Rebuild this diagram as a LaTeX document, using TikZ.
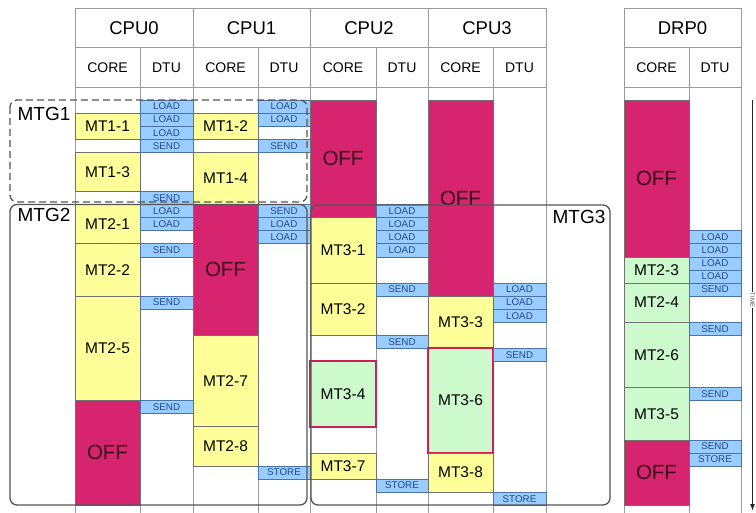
\documentclass[tikz,border=0pt]{standalone}
\usepackage{fontspec}
\setmainfont{Liberation Sans}
\usetikzlibrary{arrows.meta}
\definecolor{cyel}{HTML}{FFFF99}
\definecolor{cgrn}{HTML}{CCFACC}
\definecolor{cmag}{HTML}{D6246E}
\definecolor{coff}{HTML}{3C0A1E}
\definecolor{cblu}{HTML}{99CCFF}
\definecolor{cbline}{HTML}{4A74A8}
\definecolor{cbtxt}{HTML}{234A8C}
\definecolor{chot}{HTML}{CC1F5A}
\definecolor{cgrid}{HTML}{9A9A9A}
\definecolor{cblkl}{HTML}{707070}
\definecolor{cmtg}{HTML}{555555}
\newcommand\slotU{13.07}
\newcommand\putblk[7]{\node[#2, anchor=north west, minimum width={(#4-#3)*1pt}, minimum height={(#6-#5)*\slotU*1pt}] (#1) at (#3,{100+#5*\slotU}) {#7};}
\tikzset{
 blkbase/.style={inner sep=0pt, outer sep=0pt, draw=cblkl, line width=0.6pt},
 mtblk/.style={blkbase, fill=cyel, font=\fontsize{15.5}{16}\selectfont},
 grblk/.style={blkbase, fill=cgrn, font=\fontsize{15.5}{16}\selectfont},
 hotblk/.style={blkbase, fill=cgrn, draw=chot, line width=2pt, font=\fontsize{15.5}{16}\selectfont},
 offblk/.style={blkbase, fill=cmag, text=coff, font=\fontsize{20.5}{21}\selectfont},
 dtblk/.style={blkbase, fill=cblu, draw=cbline, text=cbtxt, font=\fontsize{9.8}{10}\selectfont},
 hdrtxt/.style={font=\fontsize{18.5}{19}\selectfont},
 subtxt/.style={font=\fontsize{14}{14}\selectfont},
 gridln/.style={draw=cgrid, line width=0.8pt},
 mtgbox/.style={draw=cmtg, line width=1.3pt, rounded corners=7pt},
 mtglab/.style={font=\fontsize{19}{19}\selectfont, inner sep=0pt}
}
\begin{document}
\begin{tikzpicture}[x=1pt,y=-1pt]
\useasboundingbox (0,0) rectangle (756,513);
% header grid
\foreach \yy in {8,47.7,87.3} {
  \draw[gridln] (75,\yy) -- (546,\yy);
  \draw[gridln] (624,\yy) -- (741,\yy);
}
\foreach \xx in {75,193,310,428,546,624,741} \draw[gridln] (\xx,8) -- (\xx,513);
\foreach \xx in {140,258,376,493,689} \draw[gridln] (\xx,47.7) -- (\xx,513);
% header texts
\node[hdrtxt] (cpu0) at (134,28) {CPU0};
\node[hdrtxt] (cpu1) at (251.5,28) {CPU1};
\node[hdrtxt] (cpu2) at (369,28) {CPU2};
\node[hdrtxt] (cpu3) at (487,28) {CPU3};
\node[hdrtxt] (drp0) at (682.5,28) {DRP0};
\node[subtxt] (core0) at (107.5,67.5) {CORE};
\node[subtxt] (dtu0) at (166.5,67.5) {DTU};
\node[subtxt] (core1) at (225.5,67.5) {CORE};
\node[subtxt] (dtu1) at (284,67.5) {DTU};
\node[subtxt] (core2) at (343,67.5) {CORE};
\node[subtxt] (dtu2) at (402,67.5) {DTU};
\node[subtxt] (core3) at (460.5,67.5) {CORE};
\node[subtxt] (dtu3) at (519.5,67.5) {DTU};
\node[subtxt] (core4) at (656.5,67.5) {CORE};
\node[subtxt] (dtu4) at (715,67.5) {DTU};
% CPU0 core
\putblk{mt11}{mtblk}{75}{140}{1}{3}{MT1-1}
\putblk{mt13}{mtblk}{75}{140}{4}{7}{MT1-3}
\putblk{mt21}{mtblk}{75}{140}{8}{11}{MT2-1}
\putblk{mt22}{mtblk}{75}{140}{11}{15}{MT2-2}
\putblk{mt25}{mtblk}{75}{140}{15}{23}{MT2-5}
\putblk{off0}{offblk}{75}{140}{23}{31}{OFF}
% CPU0 DTU
\putblk{d0a}{dtblk}{140}{193}{0}{1}{LOAD}
\putblk{d0b}{dtblk}{140}{193}{1}{2}{LOAD}
\putblk{d0c}{dtblk}{140}{193}{2}{3}{LOAD}
\putblk{d0d}{dtblk}{140}{193}{3}{4}{SEND}
\putblk{d0e}{dtblk}{140}{193}{7}{8}{SEND}
\putblk{d0f}{dtblk}{140}{193}{8}{9}{LOAD}
\putblk{d0g}{dtblk}{140}{193}{9}{10}{LOAD}
\putblk{d0h}{dtblk}{140}{193}{11}{12}{SEND}
\putblk{d0i}{dtblk}{140}{193}{15}{16}{SEND}
\putblk{d0j}{dtblk}{140}{193}{23}{24}{SEND}
% CPU1 core
\putblk{mt12}{mtblk}{193}{258}{1}{3}{MT1-2}
\putblk{mt14}{mtblk}{193}{258}{4}{8}{MT1-4}
\putblk{off1}{offblk}{193}{258}{8}{18}{OFF}
\putblk{mt27}{mtblk}{193}{258}{18}{25}{MT2-7}
\putblk{mt28}{mtblk}{193}{258}{25}{28}{MT2-8}
% CPU1 DTU
\putblk{d1a}{dtblk}{258}{310}{0}{1}{LOAD}
\putblk{d1b}{dtblk}{258}{310}{1}{2}{LOAD}
\putblk{d1c}{dtblk}{258}{310}{3}{4}{SEND}
\putblk{d1d}{dtblk}{258}{310}{8}{9}{SEND}
\putblk{d1e}{dtblk}{258}{310}{9}{10}{LOAD}
\putblk{d1f}{dtblk}{258}{310}{10}{11}{LOAD}
\putblk{d1g}{dtblk}{258}{310}{28}{29}{STORE}
% CPU2 core
\putblk{off2}{offblk}{310}{376}{0}{9}{OFF}
\putblk{mt31}{mtblk}{310}{376}{9}{14}{MT3-1}
\putblk{mt32}{mtblk}{310}{376}{14}{18}{MT3-2}
\putblk{mt34}{hotblk}{310}{376}{20}{25}{MT3-4}
\putblk{mt37}{mtblk}{310}{376}{27}{29}{MT3-7}
% CPU2 DTU
\putblk{d2a}{dtblk}{376}{428}{8}{9}{LOAD}
\putblk{d2b}{dtblk}{376}{428}{9}{10}{LOAD}
\putblk{d2c}{dtblk}{376}{428}{10}{11}{LOAD}
\putblk{d2d}{dtblk}{376}{428}{11}{12}{LOAD}
\putblk{d2e}{dtblk}{376}{428}{14}{15}{SEND}
\putblk{d2f}{dtblk}{376}{428}{18}{19}{SEND}
\putblk{d2g}{dtblk}{376}{428}{29}{30}{STORE}
% CPU3 core
\putblk{off3}{offblk}{428}{493}{0}{15}{OFF}
\putblk{mt33}{mtblk}{428}{493}{15}{19}{MT3-3}
\putblk{mt36}{hotblk}{428}{493}{19}{27}{MT3-6}
\putblk{mt38}{mtblk}{428}{493}{27}{30}{MT3-8}
% CPU3 DTU
\putblk{d3a}{dtblk}{493}{546}{14}{15}{LOAD}
\putblk{d3b}{dtblk}{493}{546}{15}{16}{LOAD}
\putblk{d3c}{dtblk}{493}{546}{16}{17}{LOAD}
\putblk{d3d}{dtblk}{493}{546}{19}{20}{SEND}
\putblk{d3e}{dtblk}{493}{546}{30}{31}{STORE}
% DRP0 core
\putblk{off4}{offblk}{624}{689}{0}{12}{OFF}
\putblk{mt23}{grblk}{624}{689}{12}{14}{MT2-3}
\putblk{mt24}{grblk}{624}{689}{14}{17}{MT2-4}
\putblk{mt26}{grblk}{624}{689}{17}{22}{MT2-6}
\putblk{mt35}{grblk}{624}{689}{22}{26}{MT3-5}
\putblk{off5}{offblk}{624}{689}{26}{31}{OFF}
% DRP0 DTU
\putblk{d4a}{dtblk}{689}{741}{10}{11}{LOAD}
\putblk{d4b}{dtblk}{689}{741}{11}{12}{LOAD}
\putblk{d4c}{dtblk}{689}{741}{12}{13}{LOAD}
\putblk{d4d}{dtblk}{689}{741}{13}{14}{LOAD}
\putblk{d4e}{dtblk}{689}{741}{14}{15}{SEND}
\putblk{d4f}{dtblk}{689}{741}{17}{18}{SEND}
\putblk{d4g}{dtblk}{689}{741}{22}{23}{SEND}
\putblk{d4h}{dtblk}{689}{741}{26}{27}{SEND}
\putblk{d4i}{dtblk}{689}{741}{27}{28}{STORE}
% MTG groups
\draw[mtgbox, dash pattern=on 7pt off 4pt] (10,100) rectangle (307,202);
\draw[mtgbox] (10,204.5) rectangle (307,505);
\draw[mtgbox] (311,205) rectangle (610,505);
\node[mtglab] (mtg1) at (44,114) {MTG1};
\node[mtglab] (mtg2) at (44,214.5) {MTG2};
\node[mtglab] (mtg3) at (579,216.5) {MTG3};
% time arrow
\coordinate (tA) at (752.5,100);
\coordinate (tB) at (752.5,511);
\draw[line width=1.3pt, draw=black!85, -{Latex[length=7pt,width=5pt]}] (tA) -- (tB);
\node[rotate=-90, fill=white, inner sep=0.8pt, font=\fontsize{6}{6}\selectfont, text=black!70] (timelab) at (752.5,300) {TIME};
\end{tikzpicture}
\end{document}
